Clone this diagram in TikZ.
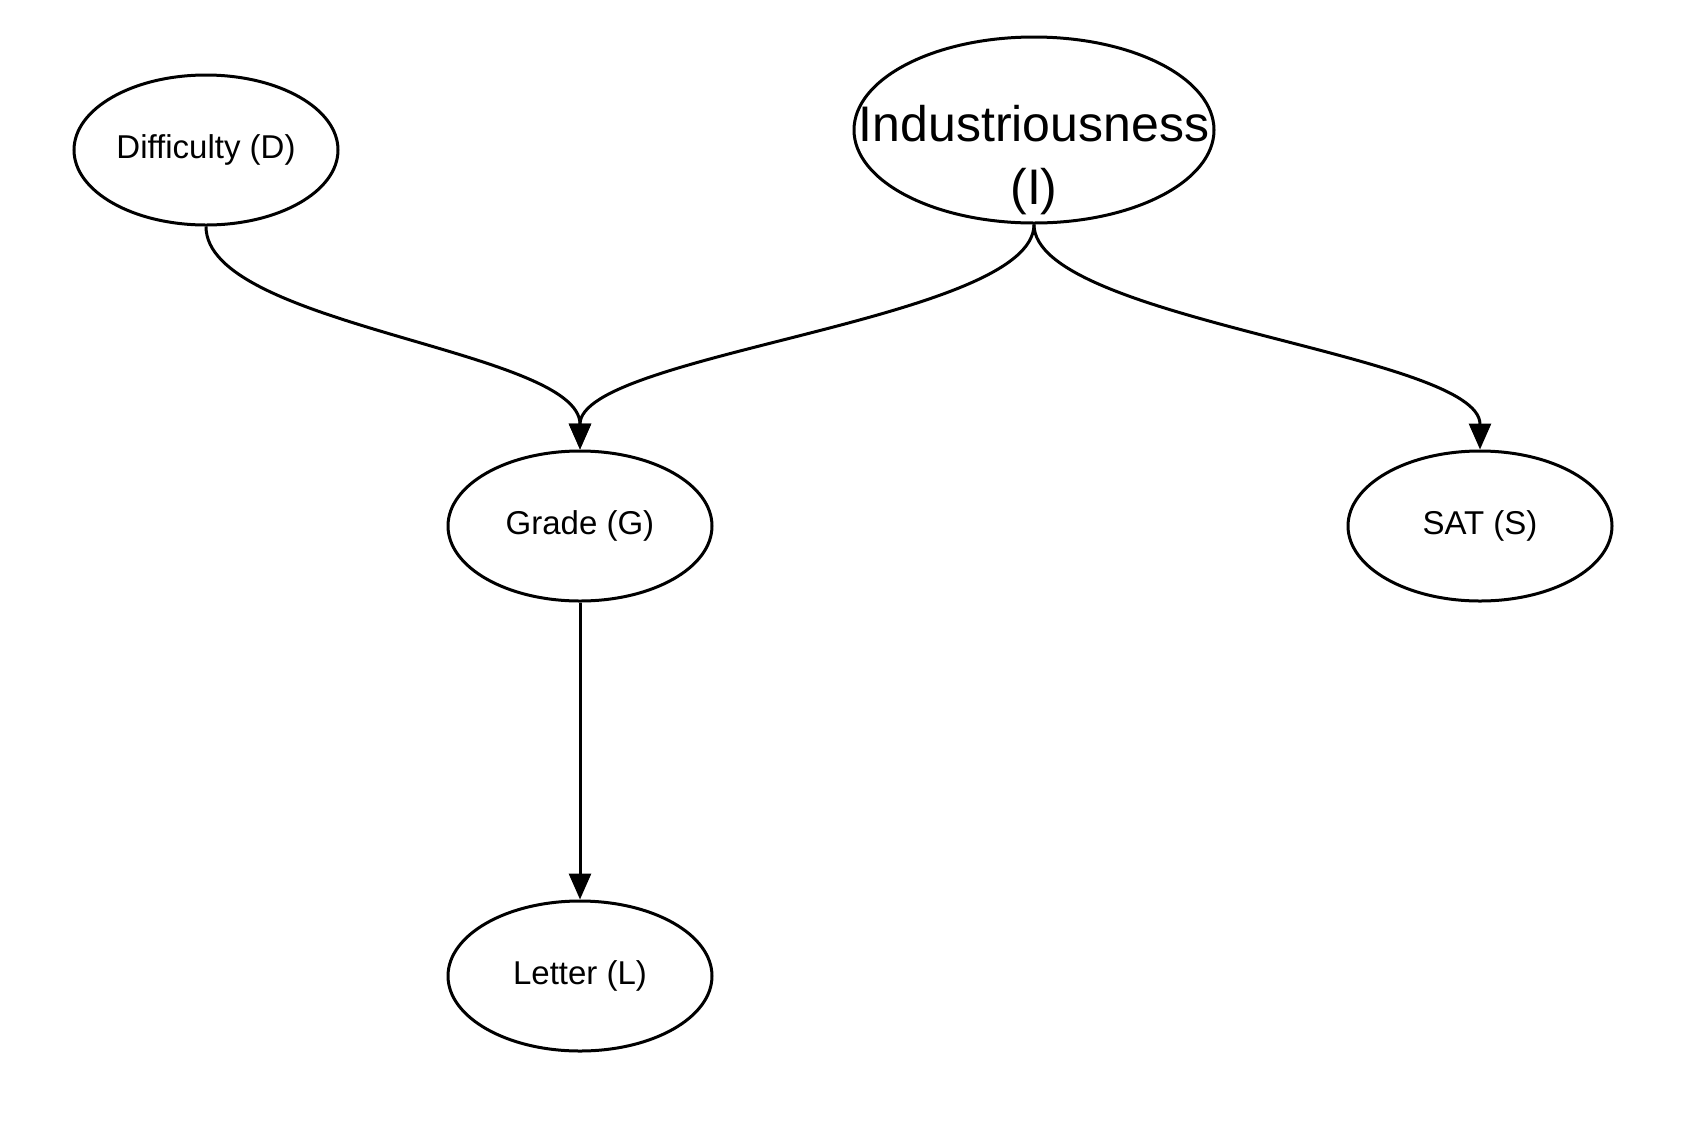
\documentclass[tikz,border=0pt]{standalone}
\usepackage{fontspec}
\setmainfont{Liberation Sans}
\usetikzlibrary{shapes.geometric,arrows.meta}
\begin{document}
\begin{tikzpicture}[x=0.5pt,y=-0.5pt,
  var/.style={ellipse,draw=black,line width=1.5pt,inner sep=0pt,
    minimum width=132pt,minimum height=75pt,
    font=\fontsize{16.5pt}{20pt}\selectfont},
  bigvar/.style={ellipse,draw=black,line width=1.5pt,inner sep=0pt,
    minimum width=180pt,minimum height=93pt},
  bigtext/.style={align=center,inner sep=0pt,
    font=\fontsize{25pt}{31.5pt}\selectfont},
  edge/.style={line width=1.5pt,-{Triangle[length=13pt,width=11pt]}}]
\useasboundingbox (0,0) rectangle (1688,1126);
\node[var] (D) at (206,150) {Difficulty (D)};
\node[bigvar] (I) at (1034,130) {};
\node[bigtext] (Itext) at ([yshift=-15pt]I.center) {Industriousness\\(I)};
\node[var] (G) at (580,526) {Grade (G)};
\node[var] (S) at (1480,526) {SAT (S)};
\node[var] (L) at (580,976) {Letter (L)};
\draw[edge] (D.south) .. controls +(0,100) and +(0,-100) .. (G.north);
\draw[edge] (I.south) .. controls +(0,96) and +(0,-96) .. (G.north);
\draw[edge] (I.south) .. controls +(0,96) and +(0,-96) .. (S.north);
\draw[edge] (G.south) -- (L.north);
\end{tikzpicture}
\end{document}
